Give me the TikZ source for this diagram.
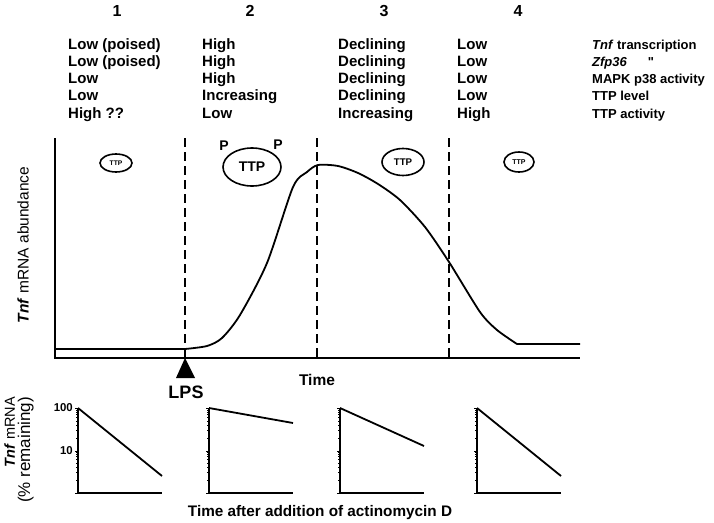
\documentclass[tikz,border=0pt]{standalone}
\usepackage{fontspec}
\setmainfont{Liberation Sans}
\usetikzlibrary{positioning,shapes.geometric}

\begin{document}
\begin{tikzpicture}[x=1pt,y=-1pt,
  head/.style={font=\fontsize{16}{18}\selectfont\bfseries,inner sep=0pt},
  col/.style={font=\fontsize{15}{17.25}\selectfont\bfseries,align=left,anchor=base west,inner sep=0pt},
  axis/.style={line width=2.2pt},
  phase/.style={line width=2pt,dash pattern=on 9pt off 5pt},
  ttp/.style={draw,ellipse,line width=1.6pt,inner sep=0pt,font=\bfseries},
  small axis/.style={line width=1.8pt},
  lbl/.style={font=\fontsize{14}{16}\selectfont\bfseries,inner sep=0pt}
]
\useasboundingbox (0,0) rectangle (714,522);

% phase numbers and table
\node[head] (n1) at (117,11) {1};
\node[head] (n2) at (250,11) {2};
\node[head] (n3) at (384,11) {3};
\node[head] (n4) at (518,11) {4};
\node[col] (c1) at (68,118) {Low (poised)\\Low (poised)\\Low\\Low\\High ??};
\node[col] (c2) at (202,118) {High\\High\\High\\Increasing\\Low};
\node[col] (c3) at (338,118) {Declining\\Declining\\Declining\\Declining\\Increasing};
\node[col] (c4) at (457,118) {Low\\Low\\Low\\Low\\High};
\node[col,font=\fontsize{13}{17.25}\selectfont\bfseries] (c5) at (592,118)
  {\textit{Tnf} transcription\\\textit{Zfp36}\hspace{1.6em}\textquotedbl\\MAPK p38 activity\\TTP level\\TTP activity};

% main plot
\coordinate (orig) at (55,358);
\coordinate (ytop) at (55,138);
\coordinate (xend) at (580,358);
\draw[axis] (ytop) -- (orig) -- (xend);
\foreach \x/\n in {185/a,317/b,449/c}
  \draw[phase] (\x,138) coordinate (top\n) -- (\x,358) coordinate (bot\n);
\draw[line width=1.8pt] (55,349) -- (185,349)
  plot[smooth,tension=0.45] coordinates {(185,349) (207,346) (222,338) (240,315)
  (267,263) (293,187) (307,172) (318,165) (338,166) (358,173) (378,184)
  (400,200) (425,227) (449,262) (480,312) (497,330) (517,344)} -- (580,344);

\node[ttp,minimum width=32pt,minimum height=18pt,font=\fontsize{6.7}{8}\selectfont\bfseries] (ttpA) at (116,163) {TTP};
\node[ttp,minimum width=58pt,minimum height=38pt,font=\fontsize{14}{16}\selectfont\bfseries] (ttpB) at (252,167) {TTP};
\node[ttp,minimum width=42pt,minimum height=27pt,font=\fontsize{9.7}{12}\selectfont\bfseries] (ttpC) at (403,162) {TTP};
\node[ttp,minimum width=30pt,minimum height=20pt,font=\fontsize{7}{8}\selectfont\bfseries] (ttpD) at (519,162) {TTP};
\node[lbl] (pA) at (224,146) {P};
\node[lbl] (pB) at (278,145) {P};

\fill (bota) -- (176,378) -- (195,378) -- cycle;
\node[font=\fontsize{18}{20}\selectfont\bfseries,inner sep=0pt] (lps) at (186,392) {LPS};
\node[lbl,font=\fontsize{15.5}{18}\selectfont\bfseries] (time) at (317,380) {Time};
\node[font=\fontsize{15.5}{18}\selectfont,inner sep=0pt,rotate=90] (ylab) at (23,245)
  {\textbf{\textit{Tnf}} mRNA abundance};

% decay panels
\foreach \x/\e in {78/476,209/423,340/446,477/476} {
  \draw[small axis] (\x,408) -- (\x,493) -- (\x+84,493);
  \draw[line width=1.8pt] (\x,408) -- (\x+84,\e);
  \foreach \d in {408,451,493}
    \draw[line width=1pt] (\x-3,\d) -- (\x,\d);
  \foreach \d in {451,493}
    \foreach \k in {2,...,9}
      \draw[line width=0.6pt] (\x-2,{\d-43*ln(\k)/ln(10)}) -- (\x,{\d-43*ln(\k)/ln(10)});
}
\node[font=\fontsize{11.4}{13}\selectfont\bfseries,anchor=east,inner sep=0pt] (t100) at (73,408) {100};
\node[font=\fontsize{11.4}{13}\selectfont\bfseries,anchor=east,inner sep=0pt] (t10) at (73,451) {10};
\node[align=right,rotate=90,inner sep=0pt] (ylab2) at (19,450)
  {\fontsize{14.5}{18}\selectfont\textbf{\textit{Tnf}} mRNA\\[2pt]\fontsize{17}{18}\selectfont(\% remaining)};
\node[font=\fontsize{15.3}{18}\selectfont\bfseries,inner sep=0pt] (xlab2) at (320,513) {Time after addition of actinomycin D};
\end{tikzpicture}
\end{document}
